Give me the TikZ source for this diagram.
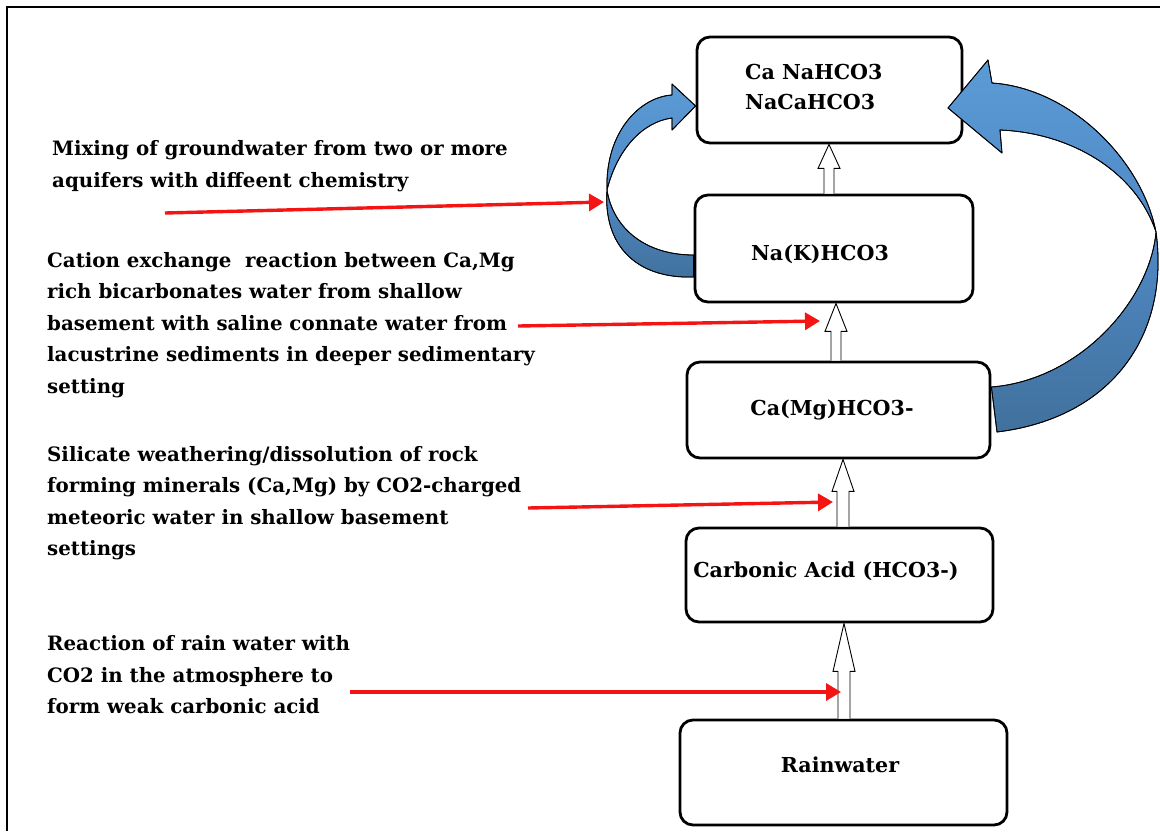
\documentclass[tikz,border=0pt]{standalone}
\usepackage{fontspec}
\setmainfont{DejaVu Serif}
\usetikzlibrary{arrows.meta,calc}

\definecolor{flowred}{HTML}{F41414}
\definecolor{ribbonlight}{HTML}{5B9BD5}
\definecolor{ribbonmid}{HTML}{4F89C6}
\definecolor{ribbondark}{HTML}{41719C}

% upward hollow block arrow: #1 tail, #2 tip, #3 shaft half width, #4 head length
\newcommand\hollowup[4]{%
  \filldraw[hollowarrow] let \p1=(#1), \p2=(#2) in
    (\x1-#3pt,\y1) -- (\x1-#3pt,\y2-#4pt) -- (\x1-11pt,\y2-#4pt) -- (\x1,\y2)
    -- (\x1+11pt,\y2-#4pt) -- (\x1+#3pt,\y2-#4pt) -- (\x1+#3pt,\y1);
}

\begin{document}
\begin{tikzpicture}[x=1pt,y=-1pt,
  stagebox/.style={draw, line width=2.8pt, rounded corners=13pt, fill=white, inner sep=0pt},
  stagetext/.style={font=\bfseries\fontsize{20.6}{30}\selectfont, inner sep=0pt, align=left},
  note/.style={font=\bfseries\fontsize{19.8}{31.5}\selectfont, inner sep=0pt, align=left, anchor=west},
  hollowarrow/.style={draw=black, fill=white, line width=0.9pt, line join=miter},
  redarrow/.style={draw=flowred, line width=3.4pt, -{Triangle[length=15pt,width=17pt]}},
  ribbon/.style={draw=black, line width=0.8pt, line join=round}]
\useasboundingbox (0,0) rectangle (1160,831);

% frame
\draw[line width=2.6pt] (7,831) -- (7,7) -- (1160,7);

% stage boxes
\node[stagebox, minimum width=265, minimum height=106] (b1) at (829.5,90) {};
\node[stagebox, minimum width=278, minimum height=107] (b2) at (834,248.5) {};
\node[stagebox, minimum width=303, minimum height=96] (b3) at (838.5,410) {};
\node[stagebox, minimum width=307, minimum height=94] (b4) at (839.5,575) {};
\node[stagebox, minimum width=327, minimum height=105] (b5) at (843.5,772.5) {};

\node[stagetext, anchor=west] (t1) at (745,87) {Ca NaHCO3\\NaCaHCO3};
\node[stagetext] (t2) at (820,254) {Na(K)HCO3};
\node[stagetext] (t3) at (832,410) {Ca(Mg)HCO3-};
\node[stagetext] (t4) at (826,571) {Carbonic Acid (HCO3-)};
\node[stagetext] (t5) at (840,765) {Rainwater};

% hollow arrows between stages
\coordinate (ax1) at (829,0);
\coordinate (ax2) at (836,0);
\coordinate (ax3) at (843,0);
\coordinate (ax4) at (844,0);
\hollowup{ax1 |- b2.north}{ax1 |- b1.south}{5}{24}
\hollowup{ax2 |- b3.north}{ax2 |- b2.south}{5}{28}
\hollowup{ax3 |- b4.north}{ax3 |- b3.south}{6}{32}
\hollowup{ax4 |- b5.north}{ax4 |- b4.south}{6}{48}

% process descriptions
\node[note] (n1) at (52,166) {Mixing of groundwater from two or more\\aquifers with diffeent chemistry};
\node[note] (n2) at (47,325) {Cation exchange\ \ reaction between Ca,Mg\\rich bicarbonates water from shallow\\basement with saline connate water from\\lacustrine sediments in deeper sedimentary\\setting};
\node[note] (n3) at (47,503) {Silicate weathering/dissolution of rock\\forming minerals (Ca,Mg) by CO2-charged\\meteoric water in shallow basement\\settings};
\node[note] (n4) at (47,675) {Reaction of rain water with\\CO2 in the atmosphere to\\form weak carbonic acid};

% red pointers
\coordinate (r1s) at (165,213);  \coordinate (r1e) at (604,202);
\coordinate (r2s) at (518,326);  \coordinate (r2e) at (820,321);
\coordinate (r3s) at (528,508);  \coordinate (r3e) at (833,502);
\coordinate (r4s) at (350,692);  \coordinate (r4e) at (841,692);
\draw[redarrow] (r1s) -- (r1e);
\draw[redarrow] (r2s) -- (r2e);
\draw[redarrow] (r3s) -- (r3e);
\draw[redarrow] (r4s) -- (r4e);

% small curved ribbon arrow: Na(K)HCO3 -> top box
\coordinate (sp) at (607,190);
\path[ribbon, top color=ribbonmid, bottom color=ribbondark]
  (sp) .. controls (613,228) and (645,255) .. (b2.west |- 0,255)
  -- (b2.west |- 0,277) .. controls (636,279) and (603,245) .. (sp);
\draw[ribbon] (sp) .. controls (613,228) and (645,255) .. (b2.west |- 0,255)
  -- (b2.west |- 0,277) .. controls (636,279) and (603,245) .. (sp);
\path[ribbon, top color=ribbonlight, bottom color=ribbonmid]
  (sp) .. controls (605,132) and (640,97) .. (672,95) -- (672,84) -- (b1.west |- 0,106)
  -- (672,130) -- (672,118) .. controls (642,122) and (617,150) .. (sp);
\draw[ribbon] (sp) .. controls (605,132) and (640,97) .. (672,95) -- (672,84) -- (b1.west |- 0,106)
  -- (672,130) -- (672,118) .. controls (642,122) and (617,150) .. (sp);

% large curved ribbon arrow: Ca(Mg)HCO3- -> top box
\coordinate (bp) at (1156,232);
\path[ribbon, top color=ribbonmid, bottom color=ribbondark]
  (bp) .. controls (1150,300) and (1080,380) .. (b3.east |- 0,387)
  -- (997,432) .. controls (1112,418) and (1170,335) .. (bp);
\draw[ribbon] (bp) .. controls (1150,300) and (1080,380) .. (b3.east |- 0,387)
  -- (997,432) .. controls (1112,418) and (1170,335) .. (bp);
\path[ribbon, top color=ribbonlight, bottom color=ribbonmid]
  (bp) .. controls (1142,160) and (1070,88) .. (992,83) -- (988,60) -- (948,108)
  -- (1002,153) -- (1000,130) .. controls (1072,133) and (1136,172) .. (bp);
\draw[ribbon] (bp) .. controls (1142,160) and (1070,88) .. (992,83) -- (988,60) -- (948,108)
  -- (1002,153) -- (1000,130) .. controls (1072,133) and (1136,172) .. (bp);
\end{tikzpicture}
\end{document}
